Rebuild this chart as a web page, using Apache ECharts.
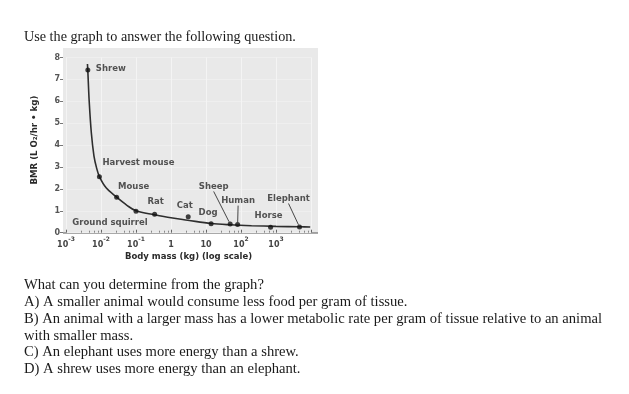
<!DOCTYPE html>
<html>
<head>
<meta charset="utf-8">
<script src="https://cdn.jsdelivr.net/npm/echarts@6/dist/echarts.min.js"></script>
<style>
html,body{margin:0;padding:0;background:#fff;}
#chart{width:629px;height:394px;}
</style>
</head>
<body>
<div id="chart"></div>
<script>
// ---- data ----
var animals = ['Shrew','Harvest mouse','Mouse','Ground squirrel','Rat','Cat','Dog','Sheep','Human','Horse','Elephant'];
var massKg  = [0.0042, 0.009, 0.028, 0.1, 0.34, 3.1, 14, 49, 80, 700, 4700];
var bmr     = [7.43, 2.56, 1.62, 0.98, 0.84, 0.73, 0.41, 0.40, 0.37, 0.25, 0.26];
// fitted curve
var curveMass = [0.0041, 0.0042, 0.0046, 0.0053, 0.0063, 0.0075, 0.009, 0.014, 0.028, 0.055, 0.1, 0.34, 1, 3, 14, 50, 200, 1000, 5000, 9500];
var curveBmr  = [7.7, 7.4, 6.0, 4.55, 3.5, 2.95, 2.56, 2.05, 1.62, 1.25, 1.0, 0.82, 0.68, 0.57, 0.42, 0.36, 0.32, 0.29, 0.27, 0.26];
var yTicks = [0,1,2,3,4,5,6,7,8];
var xTickBase = {'-3':'10','-2':'10','-1':'10','0':'1','1':'10','2':'10','3':'10'};
var xTickExp  = {'-3':'-3','-2':'-2','-1':'-1','0':'','1':'','2':'2','3':'3'};
var titleText = 'Use the graph to answer the following question.';
var questionLines = [
  'What can you determine from the graph?',
  'A) A smaller animal would consume less food per gram of tissue.',
  'B) An animal with a larger mass has a lower metabolic rate per gram of tissue relative to an animal',
  'with smaller mass.',
  'C) An elephant uses more energy than a shrew.',
  'D) A shrew uses more energy than an elephant.'
];

// ---- label placement (style) ----
var labelOffset = {
  'Shrew':[23,-1], 'Harvest mouse':[39,-13.5], 'Mouse':[17,-10.5], 'Ground squirrel':[-26,12],
  'Rat':[1,-12.5], 'Cat':[-3.5,-10.5], 'Dog':[-3,-10.5], 'Horse':[-2,-11.5],
  'Sheep':[-16.5,-37], 'Human':[0.5,-23.5], 'Elephant':[-11,-28]
};
var leader = {'Sheep':1,'Human':1,'Elephant':1};

var plain = [], lead = [];
animals.forEach(function(n,i){
  var item = {name:n, value:[massKg[i], bmr[i]]};
  if (leader[n]) lead.push(item); else plain.push(item);
});

var labelFont = {fontFamily:'DejaVu Sans', fontWeight:'bold', fontSize:8.5, color:'#2a2a2a'};
function layoutFn(p){ var o=labelOffset[p.text]||[0,0]; return {dx:o[0], dy:o[1]}; }

var chart = echarts.init(document.getElementById('chart'), null, {renderer:'canvas'});
chart.setOption({
  animation:false,
  backgroundColor:'#ffffff',
  title:[
    {text:titleText, left:24, top:30, padding:0, textStyle:{fontFamily:'Liberation Serif', fontWeight:'normal', fontSize:14.2, color:'#1a1a1a'}},
    {text:questionLines.join('\n'), left:24, top:277, padding:0, textStyle:{fontFamily:'Liberation Serif', fontWeight:'normal', fontSize:14.6, lineHeight:16.8, color:'#1a1a1a'}}
  ],
  graphic:[
    {type:'rect', z:-10, silent:true, shape:{x:63, y:48, width:255, height:185}, style:{fill:'#e9e9e9'}},
    {type:'line', z:-9, silent:true, shape:{x1:63, y1:233, x2:318, y2:233}, style:{stroke:'#555', lineWidth:1}}
  ],
  grid:{left:66, right:318, top:57.5, bottom:161.3},
  xAxis:{
    type:'log', logBase:10, min:0.001, max:10000, splitNumber:7,
    axisLine:{show:false},
    axisTick:{show:true, inside:true, length:3, lineStyle:{color:'#666'}},
    minorTick:{show:true, splitNumber:5, length:2, lineStyle:{color:'#888'}},
    splitLine:{show:true, lineStyle:{color:'#f4f4f4', width:1}},
    axisLabel:{showMaxLabel:false, margin:4, color:'#444',
      formatter:function(v){ var e=String(Math.round(Math.log10(v)));
        if (!(e in xTickBase)) return '';
        var s='{b|'+xTickBase[e]+'}'; if (xTickExp[e]) s+='{s|'+xTickExp[e]+'}'; return s; },
      rich:{
        b:{fontFamily:'DejaVu Sans', fontWeight:'bold', fontSize:8, color:'#444', lineHeight:12, verticalAlign:'bottom'},
        s:{fontFamily:'DejaVu Sans', fontWeight:'bold', fontSize:6, color:'#444', lineHeight:7, verticalAlign:'top'}
      }},
    name:'Body mass (kg) (log scale)', nameLocation:'middle', nameGap:20,
    nameTextStyle:{fontFamily:'DejaVu Sans', fontWeight:'bold', fontSize:8.5, color:'#2a2a2a'}
  },
  yAxis:{
    type:'value', min:0, max:8, interval:1, offset:3,
    axisLine:{show:false},
    axisTick:{show:true, length:3, lineStyle:{color:'#777'}},
    splitLine:{show:true, lineStyle:{color:'#efefef', width:1}},
    axisLabel:{margin:3, fontFamily:'DejaVu Sans', fontWeight:'bold', fontSize:8, color:'#555',
      formatter:function(v){ return yTicks.indexOf(v)>=0 ? String(v) : ''; }},
    name:'BMR (L O₂/hr • kg)', nameLocation:'middle', nameGap:24,
    nameTextStyle:{fontFamily:'DejaVu Sans', fontWeight:'bold', fontSize:8.6, color:'#2a2a2a', padding:[0,0,0,10]}
  },
  series:[
    {type:'line', smooth:0.35, symbol:'none', silent:true, z:2,
     data:curveMass.map(function(m,i){return [m, curveBmr[i]];}),
     lineStyle:{color:'#2e2e2e', width:1.6}},
    {type:'scatter', symbolSize:5, z:3, itemStyle:{color:'#111'}, data:plain,
     label:{show:true, position:'inside', formatter:'{b}', textStyle:labelFont},
     labelLayout:layoutFn},
    {type:'scatter', symbolSize:5, z:3, itemStyle:{color:'#111'}, data:lead,
     label:{show:true, position:'inside', formatter:'{b}', textStyle:labelFont},
     labelLine:{show:true, lineStyle:{color:'#333', width:0.9}},
     labelLayout:layoutFn}
  ]
});
</script>
</body>
</html>
